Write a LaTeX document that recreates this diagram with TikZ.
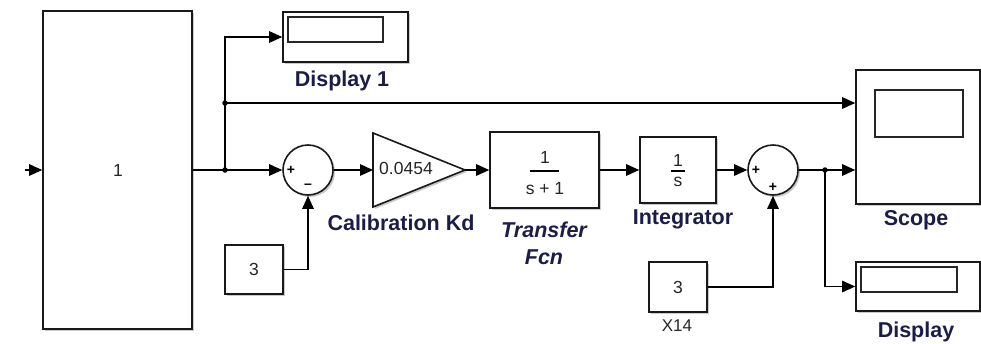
\documentclass[tikz,border=0pt]{standalone}
\usepackage{fontspec}
\setmainfont{Liberation Sans}
\usetikzlibrary{arrows.meta,shadows,calc}
\definecolor{labelblue}{RGB}{28,28,72}
\tikzset{
  blk/.style={draw=black!90, line width=1.6pt, fill=white, inner sep=0pt,
    drop shadow={shadow xshift=2pt, shadow yshift=-2pt, opacity=0.35, fill=black!60}},
  screen/.style={draw=black!85, line width=1.4pt, fill=white, inner sep=0pt},
  sumblk/.style={blk, circle, minimum size=50pt},
  sig/.style={-{Triangle[length=13pt,width=11.5pt]}, line width=1.3pt},
  wire/.style={line width=1.3pt},
  dot/.style={circle, fill=black, inner sep=0pt, minimum size=5.5pt},
  lbl/.style={font=\fontsize{21.5}{26}\selectfont\bfseries, text=labelblue, inner sep=0pt},
  btxt/.style={font=\fontsize{17.5}{20}\selectfont, text=black!85, inner sep=0pt},
  sgn/.style={font=\fontsize{14}{15}\selectfont\bfseries, inner sep=0pt},
}
\begin{document}
\begin{tikzpicture}[x=1pt,y=-1pt]
  \useasboundingbox (0,0) rectangle (981,343);

  % source block and its input
  \node[blk, minimum width=149pt, minimum height=318pt] (big) at (117.5,170) {};
  \node[btxt] (bigtxt) at (118,170) {1};
  \coordinate (in) at (25,170);
  \draw[sig] (in) -- (big.west);

  % Display 1
  \node[blk, minimum width=125pt, minimum height=50pt] (disp1) at (345.5,37) {};
  \node[screen, minimum width=95pt, minimum height=25pt] (disp1scr) at (335.5,29.5) {};
  \node[lbl] (disp1lbl) at (342,81) {Display 1};

  % branch points
  \coordinate (j1) at (225,170);
  \coordinate (j2) at (225,103);
  \coordinate (j3) at (825,170);

  % first summing junction with constant
  \node[sumblk] (sum1) at (308,170) {};
  \node[sgn] (sum1p) at (291,170) {+};
  \node[sgn] (sum1m) at (308,186) {\textendash};
  \node[blk, minimum width=58pt, minimum height=49pt] (c1) at (254,269.5) {};
  \node[btxt] (c1txt) at (254,269.5) {3};

  % gain
  \coordinate (gainin) at (373,170);
  \coordinate (gainout) at (465,170);
  \draw[blk, line join=miter] (373,133) -- (gainout) -- (373,207) -- cycle;
  \node[btxt] (gaintxt) at (406,168) {0.0454};
  \node[lbl] (gainlbl) at (401,223) {Calibration Kd};

  % transfer function
  \node[blk, minimum width=109pt, minimum height=76pt] (tf) at (544.5,170) {};
  \node[btxt] (tfnum) at (545,157) {1};
  \draw[line width=1.1pt] (530,171) -- (559,171);
  \node[btxt] (tfden) at (545,189) {s + 1};
  \node[lbl, font=\fontsize{21.5}{27}\selectfont\bfseries\itshape, align=center] (tflbl) at (544,243) {Transfer\\Fcn};

  % integrator
  \node[blk, minimum width=76pt, minimum height=66pt] (int) at (678,170) {};
  \node[btxt] (intnum) at (678,160) {1};
  \draw[line width=1.1pt] (671,171) -- (685,171);
  \node[btxt] (intden) at (678,182) {s};
  \node[lbl] (intlbl) at (683,219) {Integrator};

  % second summing junction with constant X14
  \node[sumblk] (sum2) at (773,170) {};
  \node[sgn] (sum2p) at (756,170) {+};
  \node[sgn] (sum2q) at (773,187) {+};
  \node[blk, minimum width=58pt, minimum height=50pt] (c2) at (678,287) {};
  \node[btxt] (c2txt) at (678,287) {3};
  \node[btxt, font=\fontsize{17}{19}\selectfont] (c2lbl) at (677,326) {X14};

  % scope
  \node[blk, minimum width=124pt, minimum height=134pt] (scope) at (918,137) {};
  \node[screen, minimum width=88pt, minimum height=47pt] (scopescr) at (919,113.5) {};
  \node[lbl] (scopelbl) at (916,220) {Scope};

  % display
  \node[blk, minimum width=124pt, minimum height=49pt] (disp) at (918,286.5) {};
  \node[screen, minimum width=96pt, minimum height=25pt] (dispscr) at (909,279.5) {};
  \node[lbl] (displbl) at (916,332) {Display};

  % connectors
  \draw[wire] (big.east) -- (j1);
  \draw[sig] (j1) -- (sum1.west);
  \draw[wire] (j1) -- (j2);
  \draw[sig] (j2) |- (disp1.west);
  \draw[sig] (j2) -- (j2 -| scope.west);
  \draw[sig] (c1.east) -| (sum1.south);
  \draw[sig] (sum1.east) -- (gainin);
  \draw[sig] (gainout) -- (tf.west);
  \draw[sig] (tf.east) -- (int.west);
  \draw[sig] (int.east) -- (sum2.west);
  \draw[sig] (c2.east) -| (sum2.south);
  \draw[wire] (sum2.east) -- (j3);
  \draw[sig] (j3) -- (j3 -| scope.west);
  \draw[sig] (j3) |- (disp.west);

  % junction dots
  \node[dot] (d1) at (j1) {};
  \node[dot] (d2) at (j2) {};
  \node[dot] (d3) at (j3) {};
\end{tikzpicture}
\end{document}
